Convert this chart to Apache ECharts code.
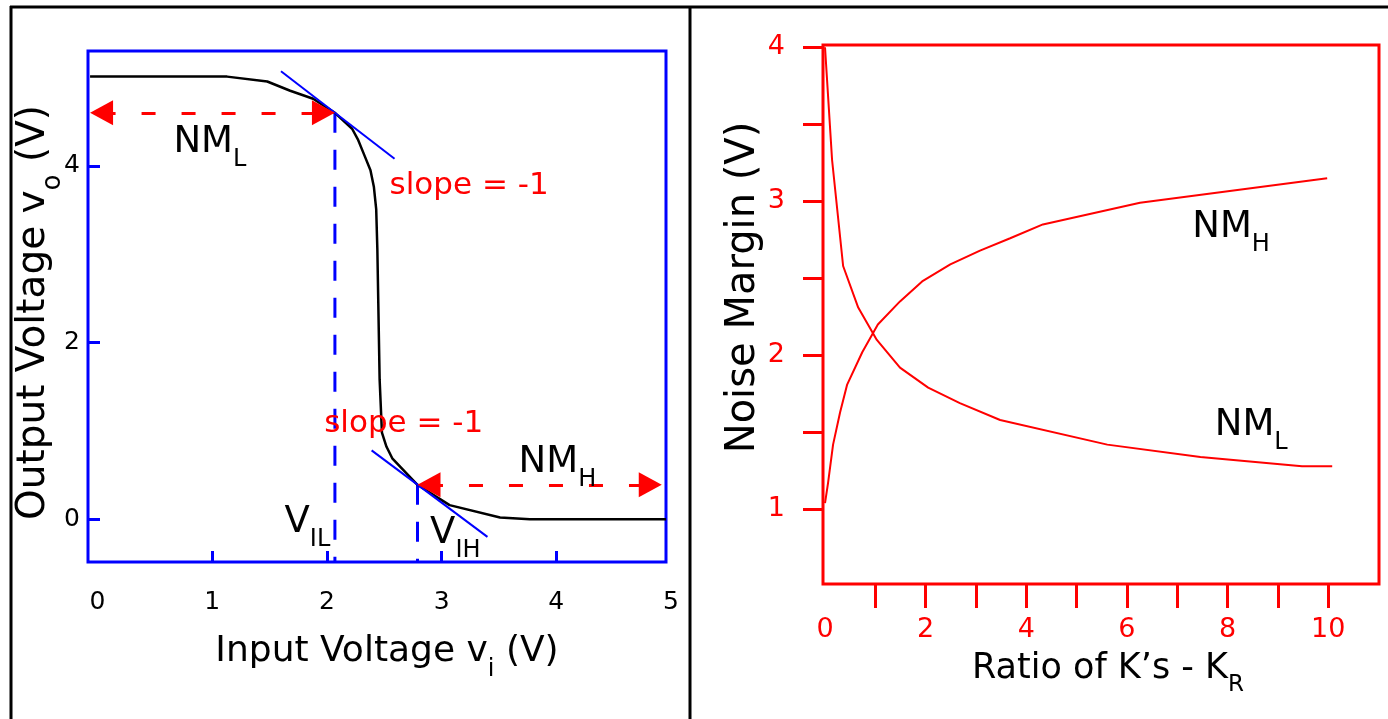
<!DOCTYPE html>
<html><head><meta charset="utf-8">
<script src="https://cdn.jsdelivr.net/npm/echarts@6/dist/echarts.min.js"></script>
<style>html,body{margin:0;padding:0;background:#fff}#c{width:1388px;height:719px}</style>
</head><body><div id="c"></div>
<script>
// ---------- Left panel: inverter voltage transfer characteristic ----------
const vin  = [-0.065, 1.13, 1.48, 1.68, 1.88, 2.07, 2.22, 2.27, 2.33, 2.38, 2.41, 2.43, 2.44, 2.46, 2.48, 2.52, 2.57, 2.79, 3.07, 3.51, 3.77, 4.957];
const vout = [5.01, 5.01, 4.955, 4.85, 4.76, 4.60, 4.42, 4.30, 4.11, 3.95, 3.76, 3.51, 3.06, 1.58, 0.98, 0.82, 0.69, 0.39, 0.16, 0.02, 0.0, 0.0];
const tangentHighX = [1.60, 2.59];
const tangentHighY = [5.07, 4.08];
const tangentLowX = [2.39, 3.40];
const tangentLowY = [0.78, -0.20];
const VIL = 2.07, VOUT_AT_VIL = 4.60;
const VIH = 2.79, VOUT_AT_VIH = 0.39;
const nmLArrowX = [-0.065, 2.07];
const nmHArrowX = [2.79, 4.92];
const leftXTicks = [1, 2, 3, 4];
const leftXLabels = [0, 1, 2, 3, 4, 5];
const leftYTicks = [0, 2, 4];

// ---------- Right panel: noise margins vs K ratio ----------
const kRatioL = [0, 0.14, 0.36, 0.66, 1.03, 1.49, 2.05, 2.68, 3.48, 5.61, 7.46, 9.48, 10.08];
const nmL     = [4.0, 3.27, 2.58, 2.31, 2.10, 1.92, 1.79, 1.69, 1.58, 1.42, 1.34, 1.28, 1.28];
const kRatioH = [0, 0.06, 0.16, 0.30, 0.44, 0.74, 1.05, 1.49, 1.93, 2.49, 3.08, 3.68, 4.33, 6.26, 9.98];
const nmH     = [1.04, 1.17, 1.42, 1.63, 1.81, 2.02, 2.20, 2.35, 2.48, 2.59, 2.68, 2.76, 2.85, 2.99, 3.15];
const rightXTicks = [1, 2, 3, 4, 5, 6, 7, 8, 9, 10];
const rightXLabels = [0, 2, 4, 6, 8, 10];
const rightYTicks = [1, 1.5, 2, 2.5, 3, 3.5, 4];
const rightYLabels = [1, 2, 3, 4];

const FONT = 'DejaVu Sans';
const BLUE = '#0000ff', RED = '#ff0000';
const L_XMIN = -0.083, L_XMAX = 4.957, L_YMIN = -0.484, L_YMAX = 5.30;
const R_XMIN = -0.04, R_XMAX = 11.01, R_YMIN = 0.515, R_YMAX = 4.015;
const ARROW_W = 25, ARROW_L = 23;

function zip(xs, ys) { return xs.map((x, i) => [x, ys[i]]); }
function rich(F, color) {
  return {
    m: {fontSize: F, lineHeight: F + 6, verticalAlign: 'top', fontFamily: FONT, color: color},
    s: {fontSize: Math.round(F * 0.66), lineHeight: Math.round(F * 0.66), verticalAlign: 'top',
        padding: [Math.round(F * 0.66), 0, 0, 0], fontFamily: FONT, color: color}
  };
}

const chart = echarts.init(document.getElementById('c'), null, {renderer: 'canvas'});
const noZero = {show: false, onZero: false};

const option = {
  animation: false,
  backgroundColor: '#fff',
  grid: [
    {left: 88, top: 51, width: 578, height: 511, show: true, borderColor: BLUE, borderWidth: 3, backgroundColor: 'transparent'},
    {left: 88, top: 51, width: 583, height: 511, show: false},
    {left: 823, top: 45, width: 556, height: 539, show: true, borderColor: RED, borderWidth: 3, backgroundColor: 'transparent'}
  ],
  xAxis: [
    {gridIndex: 0, type: 'value', min: L_XMIN, max: L_XMAX,
     axisLine: noZero, splitLine: {show: false},
     axisTick: {show: true, inside: true, length: 11, customValues: leftXTicks, lineStyle: {color: BLUE, width: 3}},
     axisLabel: {show: false},
     name: '{m|Input Voltage v}{s|i}{m| (V)}', nameLocation: 'middle', nameGap: 72, nameMoveOverlap: false,
     nameTextStyle: {rich: rich(36, '#000'), padding: [0, 0, 0, 20]}},
    {gridIndex: 1, type: 'value', min: L_XMIN, max: 5,
     axisLine: noZero, splitLine: {show: false}, axisTick: {show: false},
     axisLabel: {show: true, customValues: leftXLabels, margin: 28, fontSize: 25, fontFamily: FONT, color: '#000'}},
    {gridIndex: 2, type: 'value', min: R_XMIN, max: R_XMAX,
     axisLine: noZero, splitLine: {show: false},
     axisTick: {show: true, inside: false, length: 24, customValues: rightXTicks, lineStyle: {color: RED, width: 3}},
     axisLabel: {show: true, customValues: rightXLabels, margin: 32, fontSize: 27, fontFamily: FONT, color: RED},
     name: "{m|Ratio of K\u2019s - K}{s|R}", nameLocation: 'middle', nameGap: 67,
     nameTextStyle: {rich: rich(35, '#000'), padding: [0, 0, 0, 14]}}
  ],
  yAxis: [
    {gridIndex: 0, type: 'value', min: L_YMIN, max: L_YMAX,
     axisLine: noZero, splitLine: {show: false},
     axisTick: {show: true, inside: true, length: 12, customValues: leftYTicks, lineStyle: {color: BLUE, width: 3}},
     axisLabel: {show: true, customValues: leftYTicks, margin: 8, fontSize: 25, fontFamily: FONT, color: '#000'},
     name: '{m|Output Voltage v}{s|o}{m| (V)}', nameLocation: 'middle', nameGap: 29, nameRotate: 90,
     nameMoveOverlap: false,
     nameTextStyle: {rich: rich(39, '#000'), padding: [0, 12, 0, 0]}},
    {gridIndex: 1, type: 'value', min: L_YMIN, max: L_YMAX, show: false, axisLine: noZero},
    {gridIndex: 2, type: 'value', min: R_YMIN, max: R_YMAX,
     axisLine: noZero, splitLine: {show: false},
     axisTick: {show: true, inside: false, length: 20, customValues: rightYTicks, lineStyle: {color: RED, width: 3}},
     axisLabel: {show: true, customValues: rightYLabels, margin: 38, fontSize: 27, fontFamily: FONT, color: RED},
     name: 'Noise Margin (V)', nameLocation: 'middle', nameGap: 58, nameRotate: 90,
     nameTextStyle: {fontSize: 40, fontFamily: FONT, color: '#000', padding: [0, 0, 0, 54]}}
  ],
  series: [
    {type: 'line', xAxisIndex: 0, yAxisIndex: 0, data: zip(vin, vout), showSymbol: false, smooth: false,
     lineStyle: {color: '#000', width: 2.5, join: 'round'}, silent: true, z: 3},
    {type: 'line', xAxisIndex: 0, yAxisIndex: 0, data: zip(tangentHighX, tangentHighY), showSymbol: false,
     lineStyle: {color: BLUE, width: 2}, silent: true, z: 4},
    {type: 'line', xAxisIndex: 0, yAxisIndex: 0, data: zip(tangentLowX, tangentLowY), showSymbol: false,
     lineStyle: {color: BLUE, width: 2}, silent: true, z: 4},
    {type: 'line', xAxisIndex: 0, yAxisIndex: 0, data: [[VIL, VOUT_AT_VIL], [VIL, L_YMIN]], showSymbol: false,
     lineStyle: {color: BLUE, width: 3, type: [20, 17]}, silent: true, z: 2},
    {type: 'line', xAxisIndex: 0, yAxisIndex: 0, data: [[VIH, VOUT_AT_VIH], [VIH, L_YMIN]], showSymbol: false,
     lineStyle: {color: BLUE, width: 3, type: [20, 17]}, silent: true, z: 2},
    {type: 'line', xAxisIndex: 2, yAxisIndex: 2, data: zip(kRatioL, nmL), showSymbol: false,
     lineStyle: {color: RED, width: 2}, silent: true},
    {type: 'line', xAxisIndex: 2, yAxisIndex: 2, data: zip(kRatioH, nmH), showSymbol: false,
     lineStyle: {color: RED, width: 2}, silent: true}
  ]
};
chart.setOption(option);

// double-headed dashed arrows: tips at the given x values; markLine symbols are centred
// on their end points, so pull each end inward by half an arrow length.
function arrowSeries(xs, y) {
  const p0 = chart.convertToPixel({gridIndex: 0}, [xs[0], y]);
  const p1 = chart.convertToPixel({gridIndex: 0}, [xs[1], y]);
  const a = chart.convertFromPixel({gridIndex: 0}, [p0[0] + ARROW_L / 2, p0[1]]);
  const b = chart.convertFromPixel({gridIndex: 0}, [p1[0] - ARROW_L / 2, p1[1]]);
  return {
    type: 'line', xAxisIndex: 0, yAxisIndex: 0, data: [], silent: true,
    markLine: {
      silent: true, animation: false,
      symbol: ['triangle', 'triangle'], symbolSize: [ARROW_W, ARROW_L],
      label: {show: false},
      lineStyle: {color: RED, width: 3, type: [14, 26]},
      data: [[{coord: [a[0], y]}, {coord: [b[0], y]}]]
    }
  };
}

// ---------- annotations (placed through the axes) ----------
const annotations = [
  {grid: 0, at: [0.98, 4.23], text: '{m|NM}{s|L}', F: 37, color: '#000'},
  {grid: 0, at: [4.01, 0.615], text: '{m|NM}{s|H}', F: 37, color: '#000'},
  {grid: 0, at: [1.83, -0.065], text: '{m|V}{s|IL}', F: 37, color: '#000'},
  {grid: 0, at: [3.12, -0.19], text: '{m|V}{s|IH}', F: 37, color: '#000'},
  {grid: 0, at: [3.24, 3.775], text: 'slope = -1', F: 31, color: RED, plain: true},
  {grid: 0, at: [2.67, 1.08], text: 'slope = -1', F: 31, color: RED, plain: true},
  {grid: 2, at: [8.07, 2.81], text: '{m|NM}{s|H}', F: 37, color: '#000'},
  {grid: 2, at: [8.47, 1.525], text: '{m|NM}{s|L}', F: 37, color: '#000'}
];
const graphics = [
  {type: 'line', shape: {x1: 10, y1: 7, x2: 1388, y2: 7}, style: {stroke: '#000', lineWidth: 3}, silent: true},
  {type: 'line', shape: {x1: 11, y1: 6, x2: 11, y2: 719}, style: {stroke: '#000', lineWidth: 3}, silent: true},
  {type: 'line', shape: {x1: 690, y1: 6, x2: 690, y2: 719}, style: {stroke: '#000', lineWidth: 3}, silent: true}
];
annotations.forEach(a => {
  const p = chart.convertToPixel({gridIndex: a.grid}, a.at);
  const style = a.plain
    ? {text: a.text, fontSize: a.F, fontFamily: FONT, fill: a.color, textAlign: 'center', textVerticalAlign: 'middle'}
    : {text: a.text, rich: rich(a.F, a.color), fill: a.color, textAlign: 'center', textVerticalAlign: 'middle'};
  graphics.push({type: 'text', x: p[0], y: p[1], style: style, silent: true, z: 10});
});
const allSeries = option.series.slice();
allSeries.push(arrowSeries(nmLArrowX, VOUT_AT_VIL), arrowSeries(nmHArrowX, VOUT_AT_VIH));
chart.setOption({series: allSeries, graphic: graphics});
</script>
</body></html>
